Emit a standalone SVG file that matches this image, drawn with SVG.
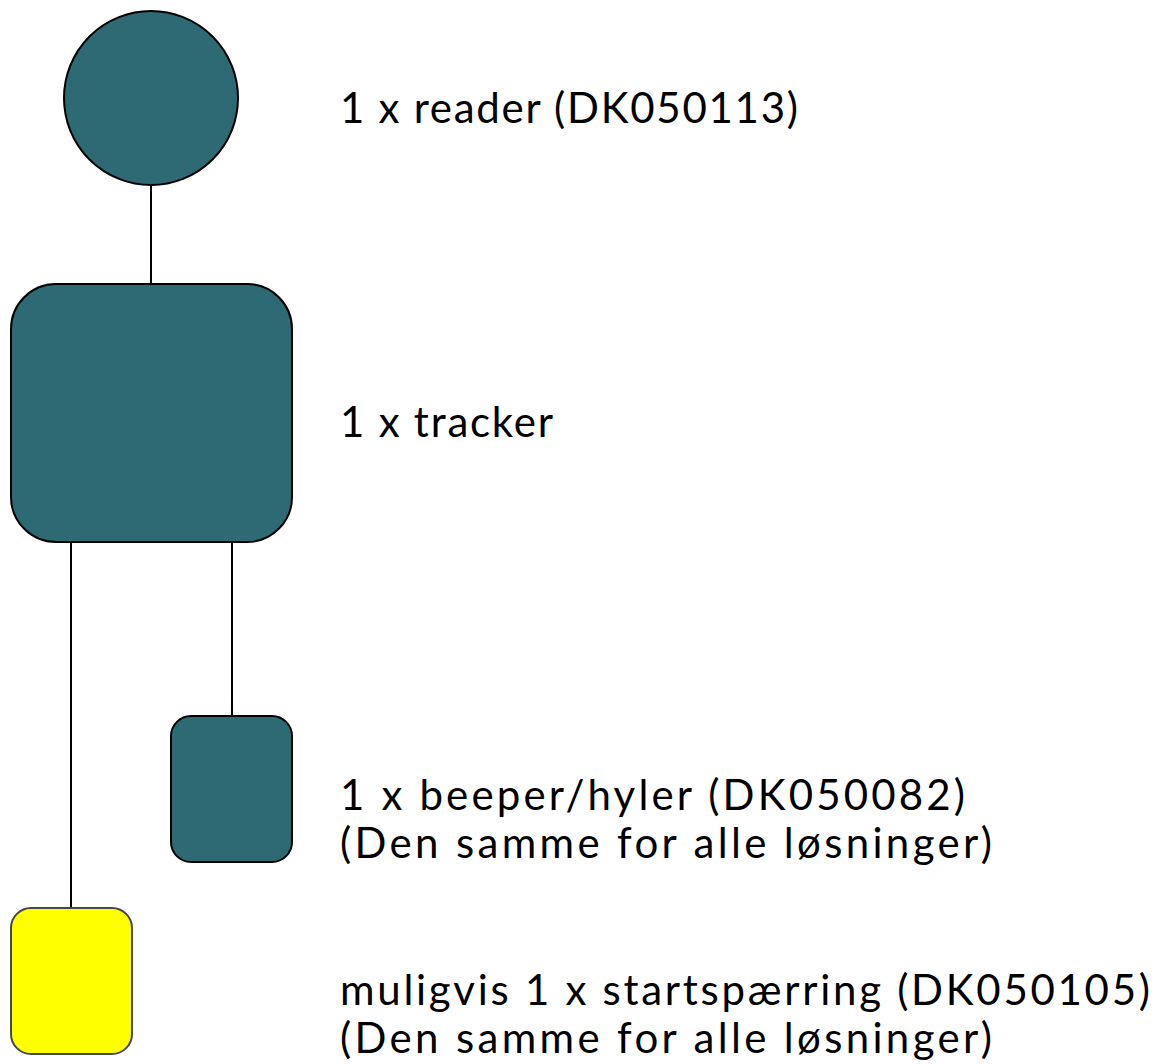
<svg xmlns="http://www.w3.org/2000/svg" width="1159" height="1064" viewBox="0 0 1159 1064">
<style>
.n{fill:#2e6a74;stroke:#000;stroke-width:2}
.y{fill:#ffff00;stroke:#45474f;stroke-width:2}
.c{stroke:#000;stroke-width:2;fill:none}
.t{font-family:"Lato","Noto Sans",sans-serif;font-size:42px;fill:#000}
</style>
<rect width="1159" height="1064" fill="#fff"/>
<g id="connectors">
<line class="c" x1="151" y1="185" x2="151" y2="284"/>
<line class="c" x1="71" y1="542" x2="71" y2="908"/>
<line class="c" x1="232" y1="542" x2="232" y2="716"/>
</g>
<g id="reader">
<circle class="n" cx="151" cy="98" r="87"/>
<text class="t" x="340" y="123" textLength="458" lengthAdjust="spacing">1 x reader (DK050113)</text>
</g>
<g id="tracker">
<rect class="n" x="11" y="284" width="281" height="258" rx="45"/>
<text class="t" x="340" y="437" textLength="213" lengthAdjust="spacing">1 x tracker</text>
</g>
<g id="beeper">
<rect class="n" x="171" y="716" width="121" height="146" rx="20"/>
<text class="t" x="340" y="810" textLength="625" lengthAdjust="spacing">1 x beeper/hyler (DK050082)</text>
<text class="t" x="340" y="858" textLength="652" lengthAdjust="spacing">(Den samme for alle løsninger)</text>
</g>
<g id="startspaerring">
<rect class="y" x="11" y="908" width="121" height="146" rx="20"/>
<text class="t" x="340" y="1005" textLength="810" lengthAdjust="spacing">muligvis 1 x startspærring (DK050105)</text>
<text class="t" x="340" y="1053" textLength="652" lengthAdjust="spacing">(Den samme for alle løsninger)</text>
</g>
</svg>
